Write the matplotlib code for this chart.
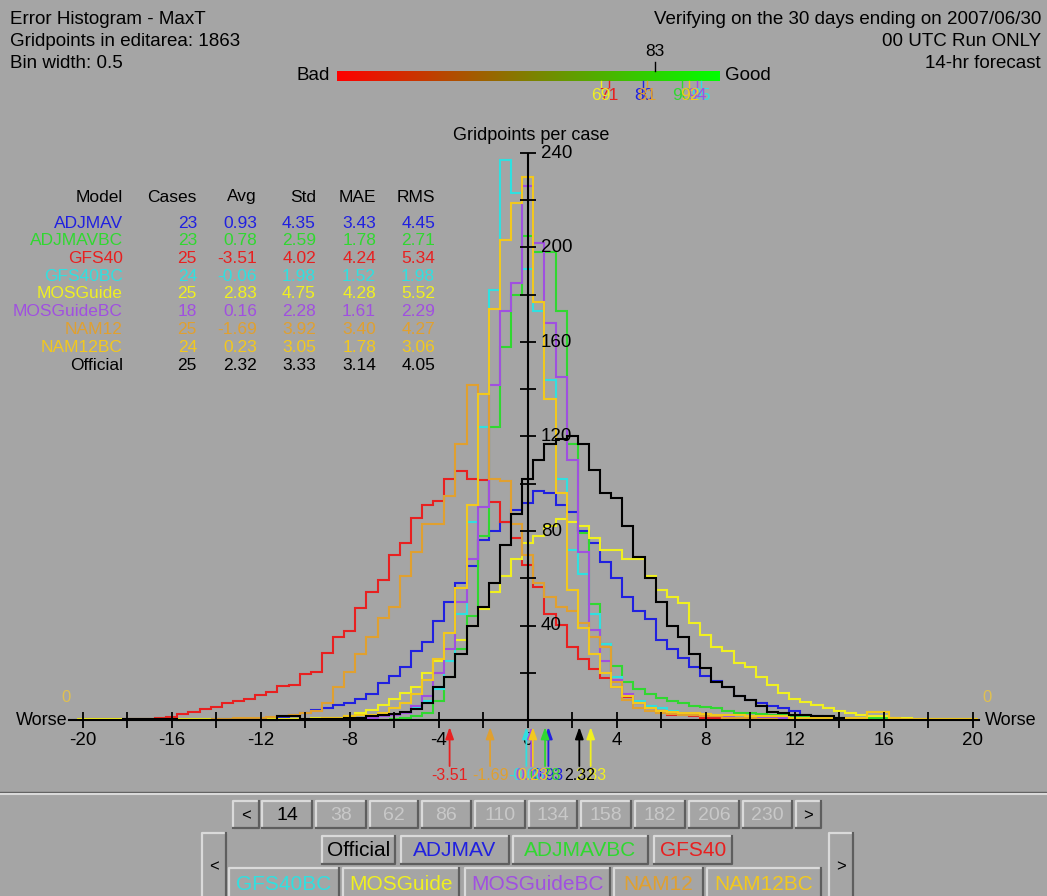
import numpy as np
import matplotlib.pyplot as plt
from matplotlib.colors import LinearSegmentedColormap
from matplotlib.patches import Rectangle
from matplotlib.transforms import offset_copy

plt.rcParams['font.family'] = ['Liberation Sans', 'DejaVu Sans']

BG = '#a5a5a5'
W, H = 1047, 896

# model statistics
models = ['ADJMAV', 'ADJMAVBC', 'GFS40', 'GFS40BC', 'MOSGuide',
          'MOSGuideBC', 'NAM12', 'NAM12BC', 'Official']
colors = ['#2020e0', '#30d830', '#e82020', '#30e0e0', '#f0f020',
          '#a050e0', '#e0a030', '#f2c81e', '#000000']
cases = [23, 23, 25, 24, 25, 18, 25, 24, 25]
avg = [0.93, 0.78, -3.51, -0.06, 2.83, 0.16, -1.69, 0.23, 2.32]
std = [4.35, 2.59, 4.02, 1.98, 4.75, 2.28, 3.92, 3.05, 3.33]
mae = [3.43, 1.78, 4.24, 1.52, 4.28, 1.61, 3.40, 1.78, 3.14]
rms = [4.45, 2.71, 5.34, 1.98, 5.52, 2.29, 4.27, 3.06, 4.05]
scores = [80, 90, 71, 95, 69, 94, 81, 92, 83]

# gridpoints per case in 0.5 bins, listed from the first bin centre given
hist_start = [-14.0, -6.0, -20.0, -8.0, -20.0, -9.0, -14.0, -10.0, -18.0]
adjmav = [0.5, 0.5, 0.5, 0.5, 0.5,
          1, 1.4, 2.1, 2.8, 4.2, 5.2, 6.3, 7.3,
          9.1, 11.2, 15.5, 18.6, 22.6, 29, 33, 42,
          50, 58, 65, 76, 80, 84, 89,
          92, 97, 96, 91, 88, 80, 75, 67,
          60, 52, 46, 42.6, 34, 30, 26.4, 22.6,
          18.6, 16.5, 14, 10, 8.5, 7, 6, 5,
          3.8, 2, 1.5, 1, 0.8, 0.5, 0.5]
adjmavbc = [0.5, 1, 1.5, 3,
            8, 18, 30, 44, 78, 124, 158, 180,
            205, 198, 198, 173, 117, 79, 49, 32,
            23, 16, 13, 11, 9.5, 8, 7, 6,
            5.5, 5, 4, 3, 3, 2.5, 2, 2,
            1.5, 1.5, 1, 1, 1, 1, 1, 1, 0.8, 0.5, 0.5]
gfs40 = [0.3, 0.3, 0.3, 0.3, 0.5, 0.5, 0.5, 0.7,
         1.4, 2.4, 3.2, 4.5, 5.6, 7.1, 8, 9.1,
         10.6, 12, 14.4, 14.8, 19.5, 20.4, 28.2, 35.3,
         37.8, 47.5, 54, 59.2, 69.8, 74.8, 85.4, 91,
         92.8, 101.9, 105.6, 101.9, 101.6, 92.4, 84, 77,
         65.6, 56.4, 44.7, 40.2, 31, 25.7, 21.4, 17.6,
         13.8, 9.9, 7.3, 5, 3.5, 2.1, 2.1, 1.5,
         1, 1, 0.8, 0.5, 0.5]
gfs40bc = [0.5, 1, 1, 1.5, 2, 3, 5, 8,
           13, 25, 45, 84, 124, 182, 237, 223,
           191, 173, 144, 102, 72, 62, 45, 32,
           18, 10, 8, 6, 5, 4, 3, 2,
           2, 1.5, 1, 1, 1, 0.5, 0.5]
mosguide = [0.3, 0.3, 0.3, 0.3, 0.3, 0.3, 0.3, 0.3,
            0.3, 0.3, 0.3, 0.3, 0.3, 0.3, 0.3, 0.3,
            0.3, 0.3, 0.3, 0.3, 0.5, 0.7, 1, 1,
            1.5, 2.8, 4.2, 6.3, 8.7, 11.3, 14.1, 20,
            25, 30, 34, 40, 47, 54, 61, 68,
            75, 78, 82, 85, 84, 82, 77, 72,
            72, 68, 68, 61, 55, 52, 49.5, 41,
            36, 31, 29, 24, 22.6, 18.3, 14.8, 11.3,
            9.1, 7.8, 6.3, 5, 4, 2.8, 2.1, 1.7,
            1.7, 0.7, 0.7, 0.5, 0.5, 0.3, 0.3, 0.3, 0.3]
mosguidebc = [0.5, 0.5, 0.7, 1, 1, 1.5, 2, 3, 6, 10,
              20, 30, 50, 68, 90, 142, 173, 185,
              226, 202, 168, 145, 110, 71, 38, 25,
              17, 11, 7, 5, 4, 3, 2.5, 2,
              2, 1.5, 1.5, 1, 1, 1, 1, 0.8,
              0.8, 0.5, 0.5, 0.5, 0.5]
nam12 = [0.5, 0.5, 0.7, 0.8, 1, 1.2,
         1.5, 2, 3, 4, 7, 14,
         20.5, 28, 35, 43, 48, 61, 71, 83,
         83, 95, 117, 142, 138, 102, 101, 83,
         70, 58, 52, 48, 46, 41, 35, 31,
         16, 8.5, 5, 4, 3, 2.5, 2, 2,
         1.5, 1.5, 1, 1, 1, 0.5, 0.5]
nam12bc = [0.5, 0.5, 1, 1, 1.5, 2,
           2, 3, 5, 7, 11, 17,
           26, 37, 56, 91, 138, 174, 203, 219,
           230, 177, 136, 96, 55, 39, 28, 20,
           14, 10, 7, 5, 4, 3.5, 3, 3,
           2.5, 2, 2, 2, 1.5, 1.5, 1.5, 1.5,
           1, 1, 1, 1, 1, 1, 1, 3.5,
           3.5, 1, 0.5, 0.5, 0.5, 0.5, 0.5, 0.5, 0.5]
official = [0.6, 0.6, 0.6, 0.6, 0.6,
            0, 0, 0, 0, 0, 0, 0, 0, 0,
            1.5, 1.5, 0.5, 0.5, 0.5, 0.5, 1,
            1, 1.5, 2, 2.5, 3.5, 4.5, 7,
            14, 18, 28, 40, 48, 58, 74, 87,
            102, 110, 117, 119, 120, 117, 106, 96,
            94, 82, 69, 60, 50, 40, 35, 28,
            22, 16, 14, 10, 8.5, 6, 3.5, 3,
            2, 2, 1.5, 1.5, 1]
hists = [adjmav, adjmavbc, gfs40, gfs40bc, mosguide,
         mosguidebc, nam12, nam12bc, official]
bin_width = 0.5

fig = plt.figure(figsize=(W / 100, H / 100), dpi=100, facecolor=BG)


def fx(px):
    return px / W


def fy(py):
    return 1 - py / H


# header lines
fig.text(fx(10), fy(20), 'Error Histogram - MaxT', ha='left', va='center', fontsize=13.5)
fig.text(fx(10), fy(42), 'Gridpoints in editarea: 1863', ha='left', va='center', fontsize=13.5)
fig.text(fx(10), fy(63), 'Bin width: 0.5', ha='left', va='center', fontsize=13.5)
fig.text(fx(1041), fy(20), 'Verifying on the 30 days ending on 2007/06/30',
         ha='right', va='center', fontsize=13.5)
fig.text(fx(1041), fy(42), '00 UTC Run ONLY', ha='right', va='center', fontsize=13.5)
fig.text(fx(1041), fy(63), '14-hr forecast', ha='right', va='center', fontsize=13.5)

# bad/good score bar
cax = fig.add_axes([fx(337), fy(81), 383 / W, 10 / H])
bar_cmap = LinearSegmentedColormap.from_list('badgood', ['#ff0000', '#00ff00'])
cax.imshow(np.linspace(0, 1, 256)[None, :], aspect='auto', cmap=bar_cmap,
           extent=[0, 100, 0, 1])
cax.set_xlim(0, 100)
cax.set_ylim(0, 1)
cax.axis('off')
fig.text(fx(330), fy(76), 'Bad', ha='right', va='center', fontsize=13.5)
fig.text(fx(725), fy(76), 'Good', ha='left', va='center', fontsize=13.5)
for name, s, c in zip(models, scores, colors):
    if name == 'Official':
        cax.plot([s, s], [1, 1.9], color=c, lw=1, clip_on=False)
        cax.text(s, 2.9, str(s), color=c, ha='center', va='center', fontsize=12.5)
    else:
        cax.plot([s, s], [0, -0.6], color=c, lw=1, clip_on=False)
        cax.text(s, -1.4, str(s), color=c, ha='center', va='center', fontsize=12.5)

# statistics table
col_right = [123, 197, 257, 316, 376, 435]
header = ['Model', 'Cases', 'Avg', 'Std', 'MAE', 'RMS']
for xr, t in zip(col_right, header):
    fig.text(fx(xr), fy(197), t, ha='right', va='center', fontsize=12.5)
for i, name in enumerate(models):
    row = [name, str(cases[i]), f'{avg[i]:.2f}', f'{std[i]:.2f}',
           f'{mae[i]:.2f}', f'{rms[i]:.2f}']
    yy = 223 + 17.75 * i
    for xr, t in zip(col_right, row):
        fig.text(fx(xr), fy(yy), t, ha='right', va='center', fontsize=12.5,
                 color=colors[i])

# histogram axes: -20..20 by 0..240 gridpoints per case
ax = fig.add_axes([fx(82.7), fy(720), 890 / W, 567 / H])
ax.set_xlim(-20, 20)
ax.set_ylim(0, 240)
ax.axis('off')

ax.plot([-20.6, 20.3], [0, 0], color='k', lw=1.5, clip_on=False)
ax.plot([0, 0], [0, 240], color='k', lw=1.5)
xt = np.arange(-20, 21, 2)
ax.plot(xt, np.zeros(len(xt)), ls='none', marker='|', ms=11, mew=1.3,
        color='k', clip_on=False)
yt = np.arange(20, 241, 20)
ax.plot(np.zeros(len(yt)), yt, ls='none', marker='_', ms=12, mew=1.3,
        color='k', clip_on=False)

below = offset_copy(ax.transData, fig=fig, x=0, y=-20, units='dots')
for v in range(-20, 21, 4):
    ax.text(v, 0, str(v), transform=below, ha='center', va='center', fontsize=13.5)
right = offset_copy(ax.transData, fig=fig, x=13, y=0, units='dots')
for v in range(40, 241, 40):
    ax.text(0, v, str(v), transform=right, ha='left', va='center', fontsize=13.5)
above = offset_copy(ax.transData, fig=fig, x=3, y=18, units='dots')
ax.text(0, 240, 'Gridpoints per case', transform=above, ha='center', va='center',
        fontsize=13)

fig.text(fx(68), fy(720), 'Worse', ha='right', va='center', fontsize=13)
fig.text(fx(985), fy(720), 'Worse', ha='left', va='center', fontsize=13)
fig.text(fx(66), fy(697), '0', ha='center', va='center', fontsize=12, color='#e0c050')
fig.text(fx(987), fy(697), '0', ha='center', va='center', fontsize=12, color='#e0c050')

for start, vals, c in zip(hist_start, hists, colors):
    vals = np.asarray(vals, dtype=float)
    edges = start - bin_width / 2 + bin_width * np.arange(len(vals) + 1)
    ax.stairs(vals, edges, baseline=None, color=c, lw=1.5, clip_on=False)

# mean-error arrows under the axis
for m, c in zip(avg, colors):
    ax.annotate('', xy=(m, -3), xytext=(m, -19.5), annotation_clip=False,
                arrowprops=dict(arrowstyle='-|>,head_length=0.7,head_width=0.25',
                                color=c, lw=1.3, shrinkA=0, shrinkB=0))
    ax.text(m, -23.5, f'{m:.2f}', color=c, ha='center', va='center', fontsize=11.5,
            clip_on=False)

# button panel along the bottom
ov = fig.add_axes([0, 0, 1, 1])
ov.set_xlim(0, W)
ov.set_ylim(H, 0)
ov.axis('off')
LIGHT, DARK = '#dadada', '#5e5e5e'
ov.plot([0, W], [792, 792], color=DARK, lw=1)
ov.plot([0, W], [794, 794], color=LIGHT, lw=1.5)


def button(x0, x1, y0, y1, label, color, size=14):
    ov.add_patch(Rectangle((x0, y0), x1 - x0, y1 - y0, facecolor=BG, edgecolor='none'))
    ov.plot([x0, x0, x1], [y1, y0, y0], color=LIGHT, lw=1.6)
    ov.plot([x0, x1, x1], [y1, y1, y0], color=DARK, lw=1.6)
    ov.text((x0 + x1) / 2, (y0 + y1) / 2 + 1, label, color=color, ha='center',
            va='center', fontsize=size)


hours = ['14', '38', '62', '86', '110', '134', '158', '182', '206', '230']
hour_x = [262, 316, 370, 422, 475, 529, 581, 635, 689, 743, 796]
button(233, 259, 801, 828, '<', 'k', 12)
for i, h in enumerate(hours):
    button(hour_x[i], hour_x[i + 1] - 4, 801, 828, h,
           'k' if i == 0 else '#c8c8c8', 14)
button(796, 821, 801, 828, '>', 'k', 12)

button(202, 226, 833, 899, '<', 'k', 12)
button(829, 853, 833, 899, '>', 'k', 12)
row_a = ['Official', 'ADJMAV', 'ADJMAVBC', 'GFS40']
row_a_x = [(322, 395), (401, 509), (513, 648), (654, 732)]
for name, (x0, x1) in zip(row_a, row_a_x):
    button(x0, x1, 836, 864, name, colors[models.index(name)], 15)
row_b = ['GFS40BC', 'MOSGuide', 'MOSGuideBC', 'NAM12', 'NAM12BC']
row_b_x = [(229, 339), (343, 459), (465, 610), (614, 703), (707, 821)]
for name, (x0, x1) in zip(row_b, row_b_x):
    button(x0, x1, 868, 900, name, colors[models.index(name)], 15)

fig.savefig('out.png', dpi=100, facecolor=BG)
